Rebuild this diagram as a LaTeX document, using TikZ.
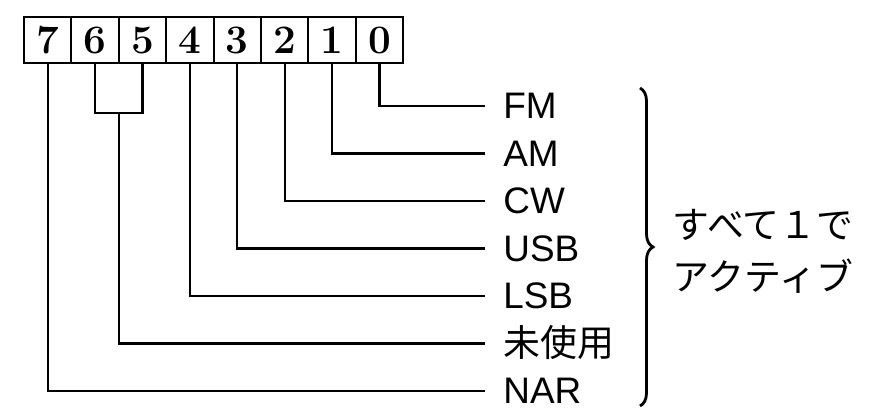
\documentclass[tikz,border=0pt]{standalone}
\usepackage{fontspec}
\setsansfont{Liberation Sans}
\newfontfamily\jp{Noto Sans CJK JP}
\usepackage{tikz}
\usetikzlibrary{calc}
\usetikzlibrary{positioning}
\usetikzlibrary{decorations.pathreplacing}

\tikzset{
  bitbox/.style={draw, line width=1.2pt, minimum width=0.948cm, minimum height=0.92cm,
    inner sep=0pt, font=\fontsize{23}{23}\selectfont\bfseries},
  modelabel/.style={anchor=west, inner ysep=0pt, inner xsep=0.36cm,
    text height=0.5cm, text depth=0pt, font=\fontsize{21}{21}\selectfont\sffamily},
  wire/.style={line width=1.2pt}
}

\begin{document}
\begin{tikzpicture}
    \useasboundingbox (0,0) rectangle (17.44,8.16);

    % register bits
    \foreach \b [count=\i from 0] in {7,6,5,4,3,2,1,0}{
      \node[bitbox] (b\b) at (0.954+0.948*\i, 7.36) {\b};
    }

    % mode labels
    \foreach \t/\n [count=\k from 0] in {FM/fm,AM/am,CW/cw,USB/usb,LSB/lsb,未使用/unused,NAR/nar}{
      \node[modelabel] (\n) at (9.70, 6.04-0.95*\k) {\ifnum\k=5 \jp\fi\t};
    }

    \foreach \b/\n in {0/fm,1/am,2/cw,3/usb,4/lsb,7/nar}{
      \draw[wire] (b\b.south) |- (\n.west);
    }

    % bits 6 and 5 share one line
    \coordinate (j65) at ($(b6.south)!0.5!(b5.south)+(0,-0.98)$);
    \draw[wire] (b6.south) -- ++(0,-0.98) -| (b5.south);
    \draw[wire] (j65) |- (unused.west);

    \draw[line width=1.6pt, decorate, decoration={brace, amplitude=0.26cm}]
      (12.80,6.40) -- (12.80,0.04);
    \node[anchor=west, align=left, inner sep=0pt,
      font=\fontsize{21}{29.5}\selectfont\jp] (note) at (13.45,3.14) {すべて１で\\アクティブ};

  \end{tikzpicture}
\end{document}
